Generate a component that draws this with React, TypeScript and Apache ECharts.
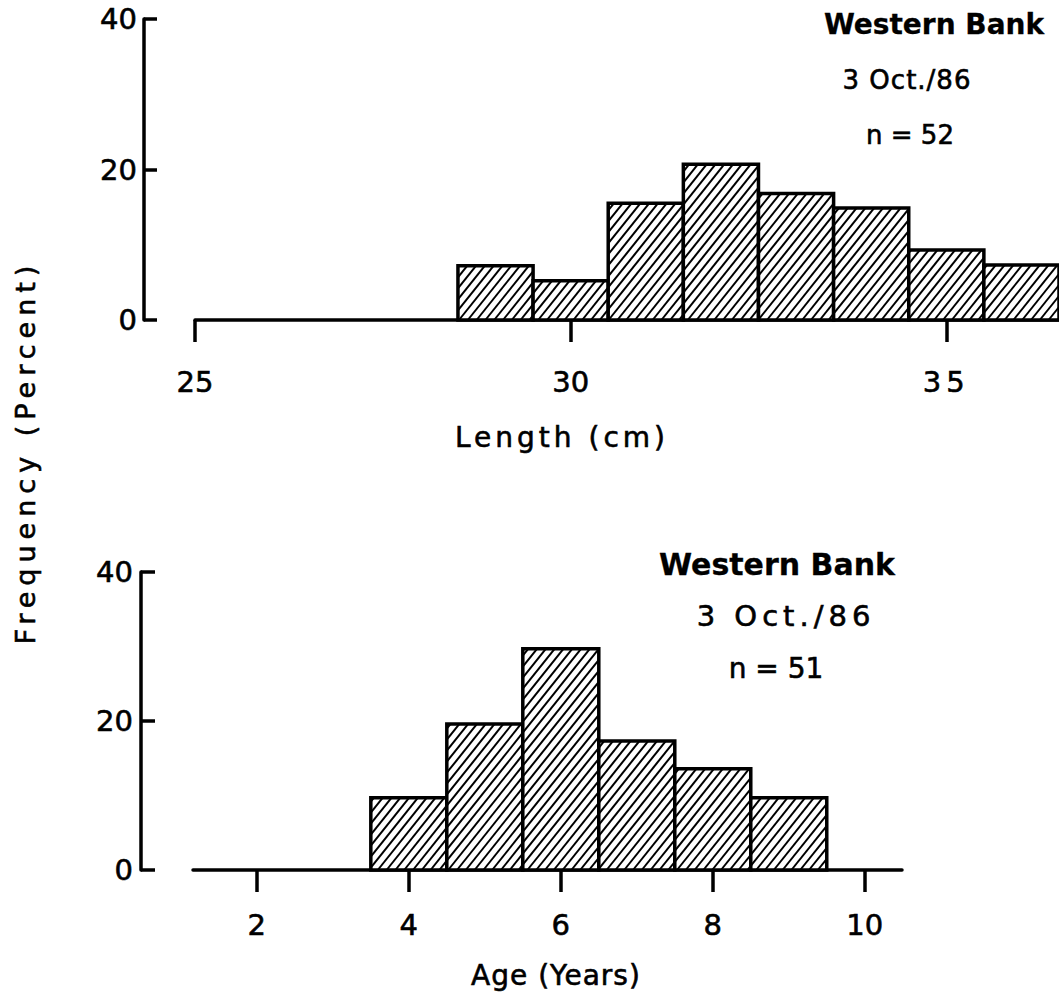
import React, { useEffect, useRef } from "react";
import * as echarts from "echarts";

// ---- data ----
const lengthBins = [29, 30, 31, 32, 33, 34, 35, 36];
const lengthPct = [7.2, 5.2, 15.5, 20.7, 16.8, 14.9, 9.3, 7.3];
const lengthTicks = [25, 30, 35];

const ageBins = [4, 5, 6, 7, 8, 9];
const agePct = [9.7, 19.6, 29.7, 17.3, 13.6, 9.7];
const ageTicks = [2, 4, 6, 8, 10];

const yTicks = [0, 20, 40];

const FONT = '"DejaVu Sans", "Liberation Sans", sans-serif';

// letter spacing keyed by "text|font-size"
const spacing: Record<string, string> = {
  "Frequency (Percent)|27": "6px",
  "Length (cm)|28": "4px",
  "Age (Years)|28": "1px",
  "3 Oct./86|29": "5px",
  "3 Oct./86|26": "1px",
  "35|29": "5px",
};

function hatchItem(params: any, api: any) {
  const cx = api.value(0);
  const v = api.value(1);
  const p0 = api.coord([cx - 0.5, 0]);
  const p1 = api.coord([cx + 0.5, v]);
  const cs = params.coordSys;
  const x0 = p0[0];
  const x1 = Math.min(p1[0], cs.x + cs.width);
  const yb = p0[1];
  const yt = p1[1];
  const h = yb - yt;
  const t = 1.25;
  const sp = 8.8;
  const children: any[] = [];
  children.push({
    type: "rect",
    shape: { x: x0, y: yt, width: x1 - x0, height: h },
    style: { fill: "#fff", stroke: "none" },
  });
  const start = cs.x + sp * Math.floor((x0 - h / t - cs.x) / sp);
  for (let c = start; c < x1; c += sp) {
    const xs = Math.max(c, x0);
    const xe = Math.min(c + h / t, x1);
    if (xe - xs < 0.5) continue;
    children.push({
      type: "line",
      shape: { x1: xs, y1: yb - t * (xs - c), x2: xe, y2: yb - t * (xe - c) },
      style: { stroke: "#000", lineWidth: 2 },
    });
  }
  children.push({
    type: "rect",
    shape: { x: x0, y: yt, width: x1 - x0, height: h },
    style: { fill: "none", stroke: "#000", lineWidth: 3.5 },
  });
  return { type: "group", children };
}

const axisLineStyle = { color: "#000", width: 3.5 };
const labelStyle = {
  color: "#000",
  fontSize: 29,
  fontFamily: FONT,
  textBorderColor: "#000",
  textBorderWidth: 0.6,
};

function text(t: string, x: number, y: number, bold = false, size = 27, extra: any = {}) {
  return {
    type: "text",
    x,
    y,
    silent: true,
    ...extra,
    style: {
      text: t,
      fill: "#000",
      fontSize: size,
      fontFamily: FONT,
      fontWeight: bold ? "bold" : "normal",
      align: "center",
      verticalAlign: "middle",
      stroke: "#000",
      lineWidth: bold ? 0.3 : 0.6,
    },
  };
}

export default function App() {
  const ref = useRef<HTMLDivElement>(null);
  useEffect(() => {
    if (!ref.current) return;
    const chart = echarts.init(ref.current, null, { renderer: "svg" });
    const option: any = {
      animation: false,
      backgroundColor: "#fff",
      grid: [
        { left: 195, top: 19, width: 864, height: 301 },
        { left: 193, top: 572, width: 709, height: 298 },
      ],
      xAxis: [
        {
          type: "value",
          gridIndex: 0,
          min: 25,
          max: 36.5,
          axisLine: { show: true, onZero: false, lineStyle: axisLineStyle },
          axisTick: { show: true, length: 22, lineStyle: axisLineStyle, customValues: lengthTicks },
          axisLabel: { ...labelStyle, margin: 47, customValues: lengthTicks },
          splitLine: { show: false },
        },
        {
          type: "value",
          gridIndex: 1,
          min: 1.16,
          max: 10.49,
          axisLine: { show: true, onZero: false, lineStyle: axisLineStyle },
          axisTick: { show: true, length: 22, lineStyle: axisLineStyle, customValues: ageTicks },
          axisLabel: { ...labelStyle, margin: 40, customValues: ageTicks },
          splitLine: { show: false },
        },
      ],
      yAxis: [
        {
          type: "value",
          gridIndex: 0,
          min: 0,
          max: 40,
          interval: 20,
          offset: 51,
          axisLine: { show: true, lineStyle: axisLineStyle },
          axisTick: { show: true, inside: true, length: 13, lineStyle: axisLineStyle, customValues: yTicks },
          axisLabel: { ...labelStyle, margin: 7, customValues: yTicks },
          splitLine: { show: false },
        },
        {
          type: "value",
          gridIndex: 1,
          min: 0,
          max: 40,
          interval: 20,
          offset: 52,
          axisLine: { show: true, lineStyle: axisLineStyle },
          axisTick: { show: true, inside: true, length: 14, lineStyle: axisLineStyle, customValues: yTicks },
          axisLabel: { ...labelStyle, margin: 8, customValues: yTicks },
          splitLine: { show: false },
        },
      ],
      series: [
        {
          type: "custom",
          xAxisIndex: 0,
          yAxisIndex: 0,
          renderItem: hatchItem,
          data: lengthBins.map((b, i) => [b, lengthPct[i]]),
          silent: true,
          z: 1,
        },
        {
          type: "custom",
          xAxisIndex: 1,
          yAxisIndex: 1,
          renderItem: hatchItem,
          data: ageBins.map((b, i) => [b, agePct[i]]),
          silent: true,
          z: 1,
        },
      ],
      graphic: [
        text("Frequency (Percent)", 25, 452, false, 27, { rotation: Math.PI / 2 }),
        text("Length (cm)", 562, 437, false, 28),
        text("Age (Years)", 556, 975, false, 28),
        text("Western Bank", 934, 24, true, 28),
        text("3 Oct./86", 907, 80, false, 26),
        text("n = 52", 910, 135, false, 26),
        text("Western Bank", 777, 564, true, 30),
        text("3 Oct./86", 786, 616, false, 29),
        text("n = 51", 776, 668, false, 28),
      ],
    };
    chart.setOption(option);
    const apply = () => {
      const root = ref.current;
      if (!root) return;
      root.querySelectorAll("text").forEach((el) => {
        const txt = (el.textContent || "").trim();
        const st = (el.getAttribute("style") || "") + " " + (el.getAttribute("font-size") || "");
        const m = st.match(/(\d+(?:\.\d+)?)px/);
        const size = m ? String(Math.round(parseFloat(m[1]))) : "";
        const s = spacing[txt + "|" + size];
        if (s) el.setAttribute("letter-spacing", s);
      });
    };
    apply();
    chart.on("finished", apply);
    return () => chart.dispose();
  }, []);
  return (
    <div
      ref={ref}
      style={{ position: "absolute", left: 0, top: 0, width: 1059, height: 1005, background: "#fff" }}
    />
  );
}
